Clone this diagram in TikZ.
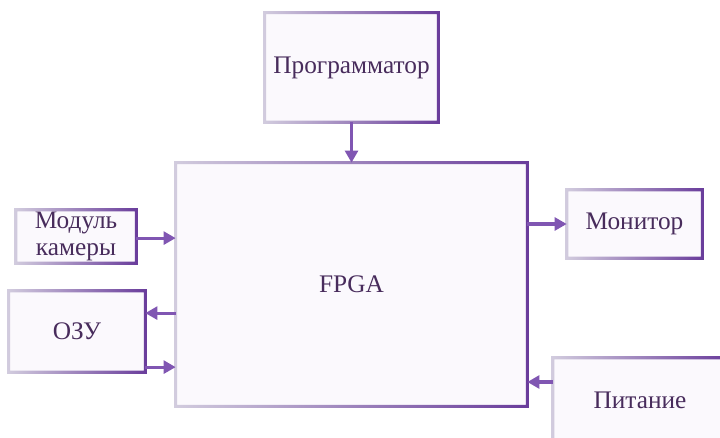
\documentclass[tikz,border=0pt]{standalone}
\usepackage{fontspec}
\setmainfont{Liberation Serif}
\usetikzlibrary{arrows.meta, positioning}
\definecolor{boxfill}{RGB}{251,249,253}
\definecolor{edgelight}{RGB}{210,204,222}
\definecolor{edgedark}{RGB}{105,60,155}
\definecolor{linkcol}{RGB}{128,86,178}
\definecolor{textcol}{RGB}{72,44,92}

\begin{document}
\begin{tikzpicture}[
  x=0.025cm, y=-0.025cm,
  box/.style={rectangle, fill=boxfill, draw=none, inner sep=0pt,
    minimum width=#1, align=center, text=textcol,
    font=\fontsize{18}{21}\selectfont},
  arrow/.style={-{Triangle[length=0.3cm, width=0.32cm]}, line width=2.2pt, linkcol}
]
\useasboundingbox (0,0) rectangle (720,438);

\node[box=4.325cm, minimum height=2.725cm] (prog) at (351.5,67.5) {Программатор};
\node[box=8.775cm, minimum height=6.075cm] (fpga) at (351.5,284.5) {FPGA};
\node[box=3cm, minimum height=1.325cm] (cam) at (76,236.5) {Модуль\\[-2pt]камеры};
\node[box=3.4cm, minimum height=2.025cm] (ozu) at (77,331.5) {ОЗУ};
\node[box=3.375cm, minimum height=1.7cm] (mon) at (634.5,224) {Монитор};
\node[box=4.35cm, minimum height=2.1cm] (pit) at (640,400) {Питание};

% shaded frames
\foreach \n in {prog,fpga,cam,ozu,mon,pit}
  \shade[left color=edgelight, right color=edgedark, even odd rule]
    ([shift={(-1.1pt,-1.1pt)}]\n.south west) rectangle ([shift={(1.1pt,1.1pt)}]\n.north east)
    ([shift={(1.1pt,1.1pt)}]\n.south west) rectangle ([shift={(-1.1pt,-1.1pt)}]\n.north east);

\draw[arrow] (prog) -- (fpga);
\draw[arrow] ([yshift=-0.04cm]cam.east) -- ([yshift=-0.04cm]cam.east -| fpga.west);
\draw[arrow] ([yshift=0.46cm]ozu.east -| fpga.west) -- ([yshift=0.46cm]ozu.east);
\draw[arrow] ([yshift=-0.89cm]ozu.east) -- ([yshift=-0.89cm]ozu.east -| fpga.west);
\draw[arrow] (fpga.east |- mon.west) -- (mon.west);
\draw[arrow] ([yshift=0.45cm]pit.west) -- ([yshift=0.45cm]pit.west -| fpga.east);
\end{tikzpicture}
\end{document}
